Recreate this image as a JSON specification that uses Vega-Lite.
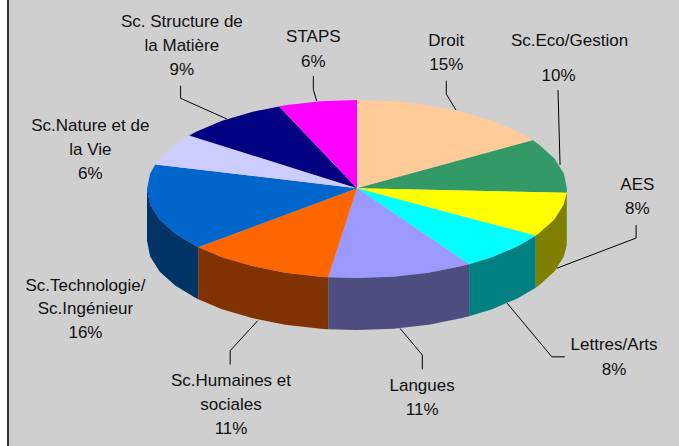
{"$schema":"https://vega.github.io/schema/vega-lite/v6.json","width":679,"height":446,"autosize":{"type":"fit","contains":"padding"},"padding":0,"background":"#CFCFCF","view":{"stroke":null},
"resolve":{"scale":{"fill":"independent"}},
"datasets":{
"strip":[{"part":"marge","a":-1.7,"b":-1.6667},{"part":"cadre","a":-1.6667,"b":-1.6571}],
"pie":[
{"p":"Droit","o":0,"x":0,"y":0.008},{"p":"Droit","o":1,"x":0,"y":1},{"p":"Droit","o":2,"x":0.174,"y":0.985},{"p":"Droit","o":3,"x":0.342,"y":0.94},{"p":"Droit","o":4,"x":0.5,"y":0.866},{"p":"Droit","o":5,"x":0.643,"y":0.766},{"p":"Droit","o":6,"x":0.766,"y":0.643},{"p":"Droit","o":7,"x":0.837,"y":0.548},
{"p":"Sc.Eco/Gestion","o":0,"x":0,"y":0.008},{"p":"Sc.Eco/Gestion","o":1,"x":0.837,"y":0.548},{"p":"Sc.Eco/Gestion","o":2,"x":0.866,"y":0.5},{"p":"Sc.Eco/Gestion","o":3,"x":0.94,"y":0.342},{"p":"Sc.Eco/Gestion","o":4,"x":0.985,"y":0.174},{"p":"Sc.Eco/Gestion","o":5,"x":1,"y":0},{"p":"Sc.Eco/Gestion","o":6,"x":0.999,"y":-0.042},
{"p":"AES","o":0,"x":0,"y":0.008},{"p":"AES","o":1,"x":0.999,"y":-0.042},{"p":"AES","o":2,"x":0.985,"y":-0.174},{"p":"AES","o":3,"x":0.94,"y":-0.342},{"p":"AES","o":4,"x":0.866,"y":-0.5},{"p":"AES","o":5,"x":0.851,"y":-0.525},
{"p":"Lettres/Arts","o":0,"x":0,"y":0.008},{"p":"Lettres/Arts","o":1,"x":0.851,"y":-0.525},{"p":"Lettres/Arts","o":2,"x":0.766,"y":-0.643},{"p":"Lettres/Arts","o":3,"x":0.643,"y":-0.766},{"p":"Lettres/Arts","o":4,"x":0.534,"y":-0.845},
{"p":"Langues","o":0,"x":0,"y":0.008},{"p":"Langues","o":1,"x":0.534,"y":-0.845},{"p":"Langues","o":2,"x":0.5,"y":-0.866},{"p":"Langues","o":3,"x":0.342,"y":-0.94},{"p":"Langues","o":4,"x":0.174,"y":-0.985},{"p":"Langues","o":5,"x":0,"y":-1},{"p":"Langues","o":6,"x":-0.137,"y":-0.991},
{"p":"Sc.Humaines et sociales","o":0,"x":0,"y":0.008},{"p":"Sc.Humaines et sociales","o":1,"x":-0.137,"y":-0.991},{"p":"Sc.Humaines et sociales","o":2,"x":-0.174,"y":-0.985},{"p":"Sc.Humaines et sociales","o":3,"x":-0.342,"y":-0.94},{"p":"Sc.Humaines et sociales","o":4,"x":-0.5,"y":-0.866},{"p":"Sc.Humaines et sociales","o":5,"x":-0.643,"y":-0.766},{"p":"Sc.Humaines et sociales","o":6,"x":-0.756,"y":-0.655},
{"p":"Sc.Technologie/Sc.Ingénieur","o":0,"x":0,"y":0.008},{"p":"Sc.Technologie/Sc.Ingénieur","o":1,"x":-0.756,"y":-0.655},{"p":"Sc.Technologie/Sc.Ingénieur","o":2,"x":-0.766,"y":-0.643},{"p":"Sc.Technologie/Sc.Ingénieur","o":3,"x":-0.866,"y":-0.5},{"p":"Sc.Technologie/Sc.Ingénieur","o":4,"x":-0.94,"y":-0.342},{"p":"Sc.Technologie/Sc.Ingénieur","o":5,"x":-0.985,"y":-0.174},{"p":"Sc.Technologie/Sc.Ingénieur","o":6,"x":-1,"y":0},{"p":"Sc.Technologie/Sc.Ingénieur","o":7,"x":-0.985,"y":0.174},{"p":"Sc.Technologie/Sc.Ingénieur","o":8,"x":-0.961,"y":0.276},
{"p":"Sc.Nature et de la Vie","o":0,"x":0,"y":0.008},{"p":"Sc.Nature et de la Vie","o":1,"x":-0.961,"y":0.276},{"p":"Sc.Nature et de la Vie","o":2,"x":-0.94,"y":0.342},{"p":"Sc.Nature et de la Vie","o":3,"x":-0.866,"y":0.5},{"p":"Sc.Nature et de la Vie","o":4,"x":-0.799,"y":0.602},
{"p":"Sc. Structure de la Matière","o":0,"x":0,"y":0.008},{"p":"Sc. Structure de la Matière","o":1,"x":-0.799,"y":0.602},{"p":"Sc. Structure de la Matière","o":2,"x":-0.766,"y":0.643},{"p":"Sc. Structure de la Matière","o":3,"x":-0.643,"y":0.766},{"p":"Sc. Structure de la Matière","o":4,"x":-0.5,"y":0.866},{"p":"Sc. Structure de la Matière","o":5,"x":-0.371,"y":0.928},
{"p":"STAPS","o":0,"x":0,"y":0.008},{"p":"STAPS","o":1,"x":-0.371,"y":0.928},{"p":"STAPS","o":2,"x":-0.342,"y":0.94},{"p":"STAPS","o":3,"x":-0.174,"y":0.985},{"p":"STAPS","o":4,"x":0,"y":1},
{"p":"AES côté","o":0,"x":0.999,"y":-0.042},{"p":"AES côté","o":1,"x":0.985,"y":-0.174},{"p":"AES côté","o":2,"x":0.94,"y":-0.342},{"p":"AES côté","o":3,"x":0.866,"y":-0.5},{"p":"AES côté","o":4,"x":0.851,"y":-0.525},{"p":"AES côté","o":5,"x":0.851,"y":-1.109},{"p":"AES côté","o":6,"x":0.866,"y":-1.084},{"p":"AES côté","o":7,"x":0.94,"y":-0.926},{"p":"AES côté","o":8,"x":0.985,"y":-0.758},{"p":"AES côté","o":9,"x":0.999,"y":-0.626},
{"p":"Lettres côté","o":0,"x":0.851,"y":-0.525},{"p":"Lettres côté","o":1,"x":0.766,"y":-0.643},{"p":"Lettres côté","o":2,"x":0.643,"y":-0.766},{"p":"Lettres côté","o":3,"x":0.534,"y":-0.845},{"p":"Lettres côté","o":4,"x":0.534,"y":-1.429},{"p":"Lettres côté","o":5,"x":0.643,"y":-1.35},{"p":"Lettres côté","o":6,"x":0.766,"y":-1.227},{"p":"Lettres côté","o":7,"x":0.851,"y":-1.109},
{"p":"Langues côté","o":0,"x":0.534,"y":-0.845},{"p":"Langues côté","o":1,"x":0.5,"y":-0.866},{"p":"Langues côté","o":2,"x":0.342,"y":-0.94},{"p":"Langues côté","o":3,"x":0.174,"y":-0.985},{"p":"Langues côté","o":4,"x":0,"y":-1},{"p":"Langues côté","o":5,"x":-0.137,"y":-0.991},{"p":"Langues côté","o":6,"x":-0.137,"y":-1.575},{"p":"Langues côté","o":7,"x":0,"y":-1.584},{"p":"Langues côté","o":8,"x":0.174,"y":-1.569},{"p":"Langues côté","o":9,"x":0.342,"y":-1.524},{"p":"Langues côté","o":10,"x":0.5,"y":-1.45},{"p":"Langues côté","o":11,"x":0.534,"y":-1.429},
{"p":"Humaines côté","o":0,"x":-0.137,"y":-0.991},{"p":"Humaines côté","o":1,"x":-0.174,"y":-0.985},{"p":"Humaines côté","o":2,"x":-0.342,"y":-0.94},{"p":"Humaines côté","o":3,"x":-0.5,"y":-0.866},{"p":"Humaines côté","o":4,"x":-0.643,"y":-0.766},{"p":"Humaines côté","o":5,"x":-0.756,"y":-0.655},{"p":"Humaines côté","o":6,"x":-0.756,"y":-1.239},{"p":"Humaines côté","o":7,"x":-0.643,"y":-1.35},{"p":"Humaines côté","o":8,"x":-0.5,"y":-1.45},{"p":"Humaines côté","o":9,"x":-0.342,"y":-1.524},{"p":"Humaines côté","o":10,"x":-0.174,"y":-1.569},{"p":"Humaines côté","o":11,"x":-0.137,"y":-1.575},
{"p":"Technologie côté","o":0,"x":-0.756,"y":-0.655},{"p":"Technologie côté","o":1,"x":-0.766,"y":-0.643},{"p":"Technologie côté","o":2,"x":-0.866,"y":-0.5},{"p":"Technologie côté","o":3,"x":-0.94,"y":-0.342},{"p":"Technologie côté","o":4,"x":-0.985,"y":-0.174},{"p":"Technologie côté","o":5,"x":-1,"y":0},{"p":"Technologie côté","o":6,"x":-1,"y":-0.584},{"p":"Technologie côté","o":7,"x":-0.985,"y":-0.758},{"p":"Technologie côté","o":8,"x":-0.94,"y":-0.926},{"p":"Technologie côté","o":9,"x":-0.866,"y":-1.084},{"p":"Technologie côté","o":10,"x":-0.766,"y":-1.227},{"p":"Technologie côté","o":11,"x":-0.756,"y":-1.239}
],
"leaders":[
{"s":"Droit","o":0,"x":0.471,"y":0.888},{"s":"Droit","o":1,"x":0.425,"y":1.067},{"s":"Droit","o":2,"x":0.425,"y":1.217},
{"s":"Eco","o":0,"x":0.967,"y":0.27},{"s":"Eco","o":1,"x":0.957,"y":1.112},
{"s":"AES","o":0,"x":0.951,"y":-0.891},{"s":"AES","o":1,"x":1.329,"y":-0.551},{"s":"AES","o":2,"x":1.329,"y":-0.404},
{"s":"Lettres","o":0,"x":0.714,"y":-1.281},{"s":"Lettres","o":1,"x":0.928,"y":-1.886},{"s":"Lettres","o":2,"x":0.99,"y":-1.886},
{"s":"Langues","o":0,"x":0.205,"y":-1.566},{"s":"Langues","o":1,"x":0.311,"y":-1.865},{"s":"Langues","o":2,"x":0.311,"y":-2.026},
{"s":"Humaines","o":0,"x":-0.473,"y":-1.48},{"s":"Humaines","o":1,"x":-0.604,"y":-1.817},{"s":"Humaines","o":2,"x":-0.604,"y":-1.971},
{"s":"Structure","o":0,"x":-0.62,"y":0.787},{"s":"Structure","o":1,"x":-0.84,"y":1.019},{"s":"Structure","o":2,"x":-0.84,"y":1.16},
{"s":"STAPS","o":0,"x":-0.192,"y":0.989},{"s":"STAPS","o":1,"x":-0.208,"y":1.119},{"s":"STAPS","o":2,"x":-0.208,"y":1.27}
],
"labels":[
{"t":"Droit","x":0.425,"y":1.663},{"t":"15%","x":0.425,"y":1.393},
{"t":"Sc.Eco/Gestion","x":1.012,"y":1.663},{"t":"10%","x":0.96,"y":1.273},
{"t":"AES","x":1.335,"y":0.045},{"t":"8%","x":1.335,"y":-0.225},
{"t":"Lettres/Arts","x":1.224,"y":-1.753},{"t":"8%","x":1.224,"y":-2.034},
{"t":"Langues","x":0.31,"y":-2.213},{"t":"11%","x":0.31,"y":-2.483},
{"t":"Sc.Humaines et","x":-0.6,"y":-2.154},{"t":"sociales","x":-0.6,"y":-2.427},{"t":"11%","x":-0.6,"y":-2.697},
{"t":"Sc.Technologie/","x":-1.293,"y":-1.087},{"t":"Sc.Ingénieur","x":-1.293,"y":-1.348},{"t":"16%","x":-1.293,"y":-1.618},
{"t":"Sc.Nature et de","x":-1.27,"y":0.708},{"t":"la Vie","x":-1.27,"y":0.438},{"t":"6%","x":-1.27,"y":0.169},
{"t":"Sc. Structure de","x":-0.834,"y":1.876},{"t":"la Matière","x":-0.834,"y":1.607},{"t":"9%","x":-0.834,"y":1.337},
{"t":"STAPS","x":-0.208,"y":1.711},{"t":"6%","x":-0.208,"y":1.43}
]},
"layer":[
{"data":{"name":"strip"},"mark":{"type":"rect"},"encoding":{"x":{"field":"a","type":"quantitative","scale":{"domain":[-1.7,1.5333],"nice":false,"zero":false},"axis":null},"x2":{"field":"b"},"fill":{"field":"part","type":"nominal","scale":{"domain":["marge","cadre"],"range":["#FFFFFF","#333333"]},"legend":null}}},
{"data":{"name":"pie"},"mark":{"type":"line","filled":true,"strokeWidth":0},"encoding":{"x":{"field":"x","type":"quantitative","scale":{"domain":[-1.7,1.5333],"nice":false,"zero":false},"axis":null},"y":{"field":"y","type":"quantitative","scale":{"domain":[-2.8876,2.1236],"nice":false,"zero":false},"axis":null},"order":{"field":"o","type":"quantitative"},"fill":{"field":"p","type":"nominal","scale":{"domain":["Droit","Sc.Eco/Gestion","AES","Lettres/Arts","Langues","Sc.Humaines et sociales","Sc.Technologie/Sc.Ingénieur","Sc.Nature et de la Vie","Sc. Structure de la Matière","STAPS","AES côté","Lettres côté","Langues côté","Humaines côté","Technologie côté"],"range":["#FFCC99","#339966","#FFFF00","#00FFFF","#9999FF","#FF6600","#0066CC","#CCCCFF","#000080","#FF00FF","#808000","#008080","#4D4D80","#803300","#003366"]},"legend":null}}},
{"data":{"name":"leaders"},"mark":{"type":"line","color":"#000000","strokeWidth":1},"encoding":{"x":{"field":"x","type":"quantitative","scale":{"domain":[-1.7,1.5333],"nice":false,"zero":false},"axis":null},"y":{"field":"y","type":"quantitative","scale":{"domain":[-2.8876,2.1236],"nice":false,"zero":false},"axis":null},"order":{"field":"o","type":"quantitative"},"detail":{"field":"s","type":"nominal"}}},
{"data":{"name":"labels"},"mark":{"type":"text","font":"Liberation Sans","fontSize":17,"color":"#111111","align":"center","baseline":"middle"},"encoding":{"x":{"field":"x","type":"quantitative","scale":{"domain":[-1.7,1.5333],"nice":false,"zero":false},"axis":null},"y":{"field":"y","type":"quantitative","scale":{"domain":[-2.8876,2.1236],"nice":false,"zero":false},"axis":null},"text":{"field":"t","type":"nominal"}}}
]}
